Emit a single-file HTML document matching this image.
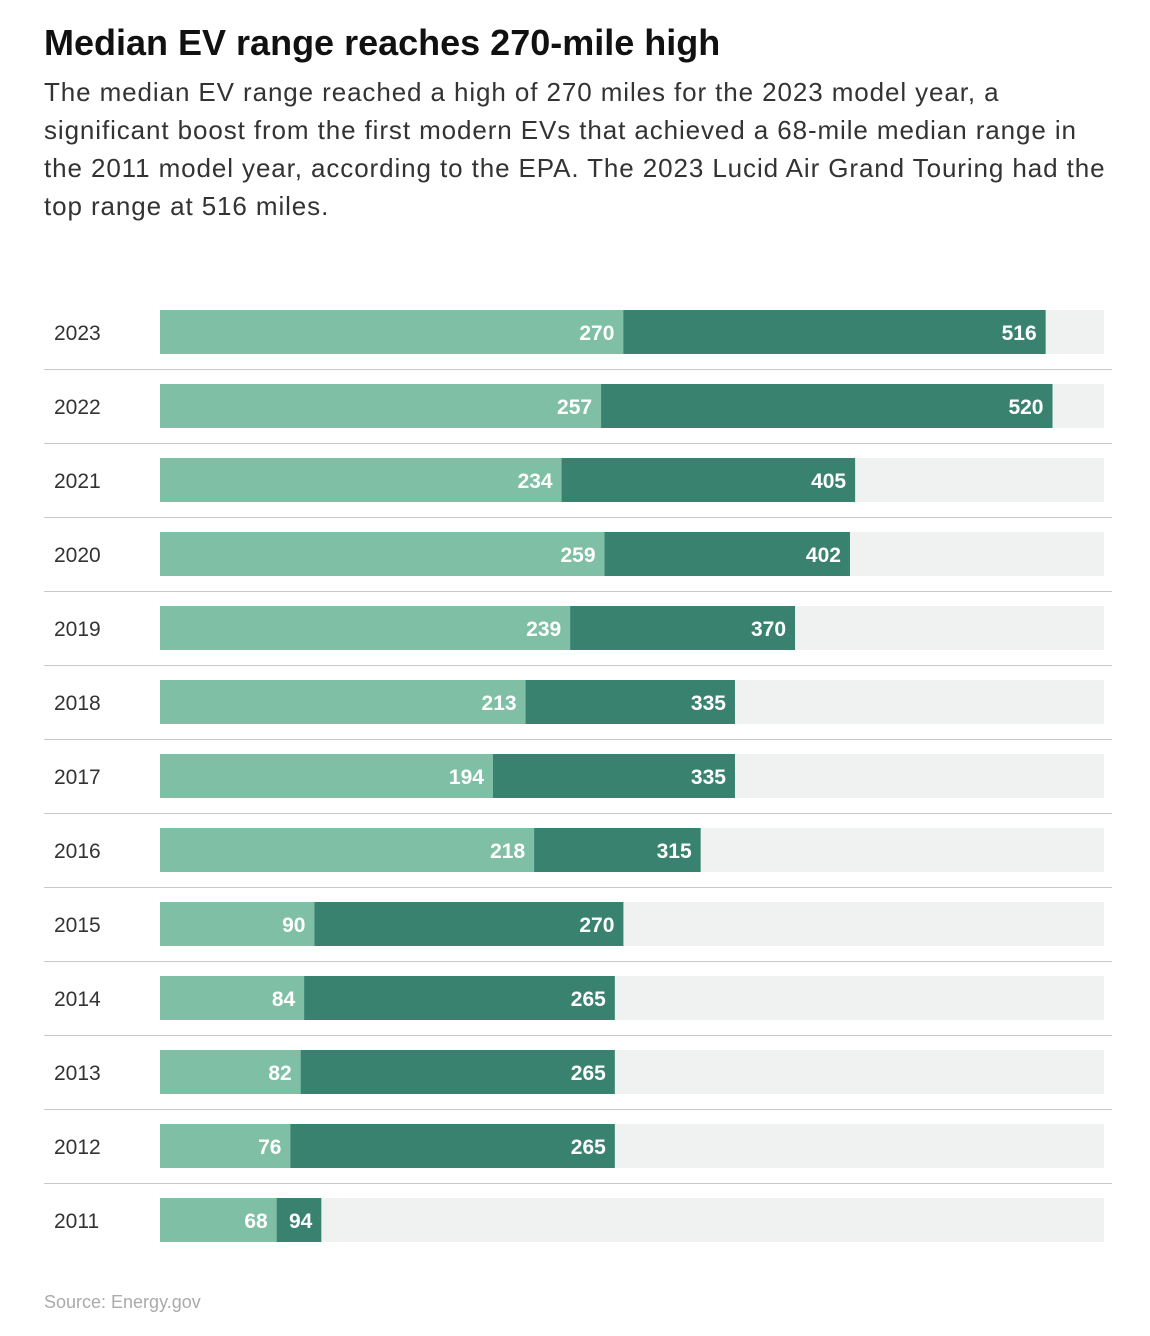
<!DOCTYPE html>
<html><head><meta charset="utf-8">
<style>
body{margin:0;background:#fff;width:1150px;height:1336px;overflow:hidden;font-family:"Liberation Sans",Arial,sans-serif;}
#title{position:absolute;left:44px;top:22px;font-size:36px;font-weight:bold;color:#111;letter-spacing:0px;}
#sub{position:absolute;left:44px;top:73px;width:1100px;font-size:26px;line-height:38px;color:#333;letter-spacing:0.9px;white-space:nowrap;}
#src{position:absolute;left:44px;top:1292px;font-size:18px;color:#aaa;}
svg{position:absolute;left:0;top:0;}
</style></head><body>
<div id="title">Median EV range reaches 270-mile high</div>
<div id="sub">The median EV range reached a high of 270 miles for the 2023 model year, a<br>significant boost from the first modern EVs that achieved a 68-mile median range in<br>the 2011 model year, according to the EPA. The 2023 Lucid Air Grand Touring had the<br>top range at 516 miles.</div>
<svg id="chart" width="1150" height="1336"></svg>
<div id="src">Source: Energy.gov</div>
<script>
const years=["2023","2022","2021","2020","2019","2018","2017","2016","2015","2014","2013","2012","2011"];
const medianRange=[270,257,234,259,239,213,194,218,90,84,82,76,68];
const topRange=[516,520,405,402,370,335,335,315,270,265,265,265,94];
const maxDomain=550;
const x0=160,x1=1104,top0=310,step=74,bh=44;
const xs=v=>x0+(x1-x0)*v/maxDomain;
const ns="http://www.w3.org/2000/svg";
const svg=document.getElementById('chart');
function mk(t,a){const e=document.createElementNS(ns,t);for(const k in a)e.setAttribute(k,a[k]);svg.appendChild(e);return e;}
years.forEach((y,i)=>{
  const yy=top0+i*step;
  const bg=mk('rect',{x:x0,y:yy,width:x1-x0,height:bh,fill:'#f0f2f1'});
  
  
  const t=mk('rect',{x:x0,y:yy,width:xs(topRange[i])-x0,height:bh,fill:'#3a8270'});
  
  
  const m=mk('rect',{x:x0,y:yy,width:xs(medianRange[i])-x0,height:bh,fill:'#7fbfa5'});
  
  
  const lm=mk('text',{x:xs(medianRange[i])-9,y:yy+30,'text-anchor':'end','font-size':21,'font-weight':'bold',fill:'#fff'});
  lm.textContent=medianRange[i];
  
  
  const lt=mk('text',{x:xs(topRange[i])-9,y:yy+30,'text-anchor':'end','font-size':21,'font-weight':'bold',fill:'#fff'});
  lt.textContent=topRange[i];
  
  
  const yl=mk('text',{x:54,y:yy+30,'font-size':21,fill:'#333'});
  yl.textContent=y;
  
  
  if(i<years.length-1){
    const l=mk('line',{x1:44,x2:1112,y1:yy+59.5,y2:yy+59.5,stroke:'#c8c8c8','stroke-width':1});
    
    
  }
});
</script>
</body></html>
